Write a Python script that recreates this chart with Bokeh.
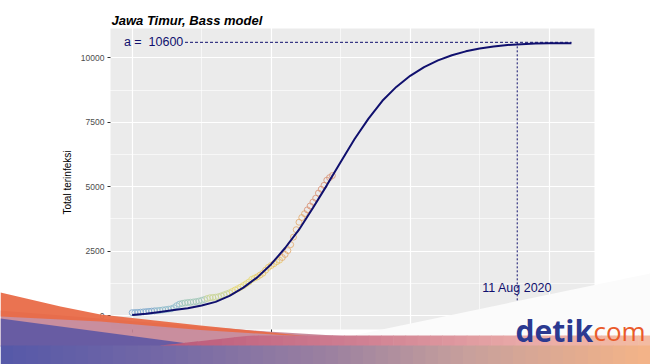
from bokeh.plotting import figure
from bokeh.models import (ColumnDataSource, Label, PolyAnnotation, BoxAnnotation,
                          SingleIntervalTicker, Range1d)
from bokeh.transform import linear_cmap
from bokeh.core.properties import value
from bokeh.embed import file_html
from bokeh.resources import INLINE

# ---------------- data ----------------
title_text = "Jawa Timur, Bass model"
y_label = "Total terinfeksi"

obs_day = list(range(0, 73))
obs_total = [110, 115, 120, 130, 140, 150, 160, 170, 180, 190,
             200, 215, 230, 245, 260, 300, 380, 440, 470, 490,
             505, 515, 525, 540, 560, 590, 620, 660, 690, 700,
             710, 730, 760, 800, 840, 880, 930, 990, 1040, 1100,
             1160, 1230, 1300, 1400, 1450, 1500, 1570, 1640, 1760, 1870,
             1940, 2010, 2090, 2150, 2250, 2370, 2520, 2750, 3040, 3330,
             3620, 3800, 3950, 4100, 4250, 4400, 4550, 4750, 4900, 5050,
             5250, 5350, 5430]

fit_day = [0, 5, 10, 15, 20, 25, 30, 35, 40, 45, 50, 55, 60, 65, 70, 75,
           80, 85, 90, 95, 100, 105, 110, 115, 120, 125, 130, 135, 140,
           145, 150, 155, 158]
fit_total = [20, 70, 140, 210, 280, 390, 530, 760, 1080, 1480, 1990, 2620,
             3330, 4170, 5050, 5960, 6850, 7640, 8330, 8870, 9300, 9640,
             9900, 10100, 10250, 10360, 10440, 10500, 10530, 10550, 10560,
             10565, 10568]

a_value = 10600
peak_day = 138.5
peak_label = "11 Aug 2020"

x_tick_interval = 50
y_tick_interval = 2500

# panel (ggplot-style) limits in data units
panel_x = (-7.8, 166.3)
panel_y = (-543, 11137)

# ---------------- figure ----------------
W, H = 650, 364
NAVY = "#10106e"
p = figure(width=W, height=H, output_backend="svg", toolbar_location=None,
           x_range=Range1d(-47.37, 186.44), y_range=Range1d(-1901, 12223),
           min_border=0)
p.background_fill_color = "white"
p.border_fill_color = "white"
p.outline_line_color = None

# grey panel
p.add_layout(BoxAnnotation(left=panel_x[0], right=panel_x[1],
                           bottom=panel_y[0], top=panel_y[1],
                           fill_color="#EBEBEB", fill_alpha=1.0,
                           line_color=None, level="image"))

xt = SingleIntervalTicker(interval=x_tick_interval, num_minor_ticks=2)
yt = SingleIntervalTicker(interval=y_tick_interval, num_minor_ticks=2)
p.xaxis.ticker = xt
p.yaxis.ticker = yt
p.xgrid.ticker = xt
p.ygrid.ticker = yt
for g in (p.xgrid, p.ygrid):
    g.grid_line_color = "white"
    g.grid_line_width = 1.2
    g.minor_grid_line_color = "white"
    g.minor_grid_line_width = 0.6
for ax in (p.xaxis, p.yaxis):
    ax.axis_line_color = None
    ax.major_tick_line_color = "#333333"
    ax.major_tick_out = 3
    ax.major_tick_in = 0
    ax.minor_tick_line_color = None
    ax.major_label_text_font = "Liberation Sans"
    ax.major_label_text_font_size = "8.5px"
    ax.major_label_text_color = "#4D4D4D"
    ax.major_label_standoff = 2
p.xaxis.fixed_location = panel_y[0]
p.yaxis.fixed_location = panel_x[0]
p.yaxis.axis_label = y_label
p.yaxis.axis_label_text_font = "Liberation Sans"
p.yaxis.axis_label_text_font_style = "normal"
p.yaxis.axis_label_text_font_size = "10px"
p.yaxis.axis_label_text_color = "black"
p.yaxis.axis_label_standoff = 5

# reference lines
p.segment(x0=[19], y0=[a_value], x1=[fit_day[-1]], y1=[a_value],
          line_color=NAVY, line_width=1, line_dash="3 2")
p.segment(x0=[peak_day], y0=[a_value], x1=[peak_day], y1=[0],
          line_color=NAVY, line_width=1, line_dash="2 2")

# observed points
src = ColumnDataSource(dict(day=obs_day, total=obs_total))
palette = ["#7fa9cc", "#8fbccb", "#a2c8b8", "#c9d595", "#e6d877",
           "#e9c66a", "#e3ab70", "#d99478"]
p.scatter("day", "total", source=src, marker="circle", size=6,
          fill_color=None, line_width=1, line_alpha=0.85,
          line_color=linear_cmap("day", palette, 0, obs_day[-1]))

# fitted curve
p.line(fit_day, fit_total, line_color=NAVY, line_width=2)

# annotations
p.text(x=[7.7], y=[a_value], text=[f"a = \u00a0{a_value}"],
       text_font=value("Liberation Sans"), text_font_size="12.5px",
       text_color=NAVY, text_align="center", text_baseline="middle")
p.text(x=[peak_day], y=[1050], text=[peak_label],
       text_font=value("Liberation Sans"), text_font_size="12.5px",
       text_color=NAVY, text_align="center", text_baseline="middle")

p.add_layout(Label(x=111, y=H - 20, x_units="screen", y_units="screen",
                   text=title_text, text_font="Liberation Sans",
                   text_font_size="13px", text_font_style="bold italic",
                   text_color="black", text_baseline="alphabetic"))

# ---------------- decorative overlay (page pixel coordinates) ----------------
def deco(pts, color, alpha=1.0):
    xs = [x for x, _ in pts]
    ys = [H - y for _, y in pts]
    p.add_layout(PolyAnnotation(xs=xs, ys=ys, xs_units="screen",
                                ys_units="screen", fill_color=color,
                                fill_alpha=alpha, line_color=None,
                                level="overlay"))

def lerp_color(stops, t):
    for i in range(len(stops) - 1):
        t0, c0 = stops[i]
        t1, c1 = stops[i + 1]
        if t0 <= t <= t1:
            f = (t - t0) / (t1 - t0)
            a = [int(c0[k:k + 2], 16) for k in (1, 3, 5)]
            b = [int(c1[k:k + 2], 16) for k in (1, 3, 5)]
            return "#%02x%02x%02x" % tuple(round(a[j] + (b[j] - a[j]) * f) for j in range(3))
    return stops[-1][1]

# white swoosh
deco([(300, 346), (650, 272.8), (650, 346)], "#fbfbfb")
# left layers
deco([(0, 310), (100, 318), (200, 326), (267, 331), (350, 336), (350, 346), (0, 346)],
     "#c48496", 0.92)
deco([(0, 318), (0, 346), (210, 346)], "#5f58a4", 0.92)
deco([(0, 292), (60, 306), (100, 314), (200, 325), (300, 335), (335, 338),
      (200, 329.5), (100, 321), (0, 316)], "#e96c48", 0.95)
# pink strip
strip_stops = [(0, "#bc5a7a"), (0.4, "#cf7f92"), (0.75, "#e9aaa8"), (1, "#f3bba2")]
n = 40
sw = 490 / n
for i in range(n):
    x0 = 160 + i * sw
    x1 = x0 + sw + 0.6
    top0 = 345 - min(10, (x0 - 160) * 10 / 90)
    top1 = 345 - min(10, (x1 - 160) * 10 / 90)
    deco([(x0, 346), (x0, top0), (x1, top1), (x1, 346)],
         lerp_color(strip_stops, i / (n - 1)))
# bottom gradient band
band_stops = [(0, "#5558a8"), (0.25, "#7468a6"), (0.5, "#9a80a0"),
              (0.72, "#c8a09c"), (1, "#f5b487")]
n = 52
bw = 650 / n
for i in range(n):
    x0 = i * bw
    deco([(x0, 345), (x0 + bw + 0.6, 345), (x0 + bw + 0.6, 365), (x0, 365)],
         lerp_color(band_stops, (i + 0.5) / n))

# logo text
p.add_layout(Label(x=515, y=H - 330, x_units="screen", y_units="screen",
                   text="detik", text_font="Open Sans", text_font_size="30px",
                   text_font_style="bold", text_color="#2b3990",
                   text_baseline="alphabetic", level="overlay"))
p.add_layout(Label(x=593, y=H - 330, x_units="screen", y_units="screen",
                   text="com", text_font="Open Sans", text_font_size="26px",
                   text_color="#ea5a2a", text_baseline="alphabetic",
                   level="overlay"))

open("out.html", "w").write(file_html(p, INLINE))
